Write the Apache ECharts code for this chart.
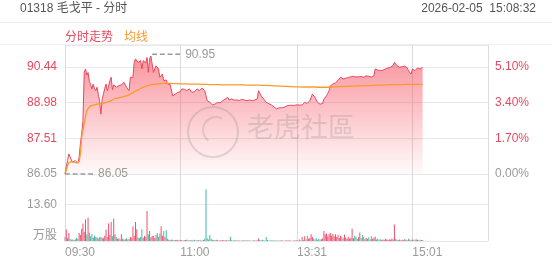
<!DOCTYPE html>
<html><head><meta charset="utf-8">
<script src="https://cdn.jsdelivr.net/npm/echarts@6/dist/echarts.min.js"></script>
<style>html,body{margin:0;padding:0;background:#fff}#c{width:552px;height:265px}</style>
</head><body><div id="c"></div>
<script>
const headerText = '01318 毛戈平 - 分时';
const stampText = '2026-02-05  15:08:32';
const legendNames = ['分时走势', '均线'];
const prevClose = 86.05;
const priceTop = 91.33;
const tickLabels = ['09:30', '11:00', '13:31', '15:01'];
const volTickLabel = 13.60;
const volUnit = '万股';

const price = [
86.05,86.35,86.60,86.87,86.80,86.62,86.53,86.58,86.60,86.55,
86.49,86.73,87.28,87.70,88.23,90.21,90.35,90.10,90.20,89.85,
89.70,89.53,89.73,89.55,89.46,89.60,89.30,89.05,88.50,89.12,
89.32,89.55,89.73,89.46,89.65,89.87,90.01,89.50,89.70,89.73,
89.60,89.66,89.67,89.60,89.70,89.73,89.80,89.87,89.60,89.55,
89.46,90.01,89.95,90.01,90.62,90.76,90.80,90.62,90.70,90.69,
90.35,90.69,90.75,90.60,90.82,90.21,90.76,90.88,90.95,90.21,
90.35,90.48,90.42,90.35,90.01,90.08,90.14,89.87,89.95,89.90,
89.73,89.80,89.72,89.66,89.25,89.28,89.32,89.36,89.39,89.32,
89.42,89.53,89.46,89.52,89.60,89.46,89.50,89.53,89.45,89.39,
89.46,89.42,89.39,89.53,89.48,89.46,89.53,89.57,89.60,89.46,
89.25,89.05,89.01,88.98,88.91,88.88,88.84,88.91,88.95,88.98,
88.91,88.96,89.01,89.05,89.08,89.12,89.15,89.19,89.08,89.06,
89.12,89.05,89.08,89.12,89.08,89.10,89.06,89.05,89.10,89.12,
89.08,89.10,89.05,89.07,89.08,89.06,89.05,89.05,89.08,89.10,
89.12,89.46,89.35,89.25,89.18,89.12,89.05,88.98,88.95,88.93,
88.91,88.88,88.84,88.80,88.76,88.71,88.74,88.76,88.78,88.76,
88.74,88.78,88.80,88.84,88.85,88.86,88.87,88.86,88.84,88.86,
88.87,88.88,88.88,88.87,88.86,88.87,88.87,88.98,88.96,88.94,
89.00,89.05,89.18,89.32,89.25,89.19,89.08,88.98,88.94,88.91,
88.92,88.94,89.12,89.18,89.25,89.35,89.46,89.66,89.70,89.73,
89.75,89.78,89.80,89.88,89.95,90.01,89.97,89.94,89.96,89.97,
89.98,90.00,90.01,90.03,90.04,90.05,90.03,90.02,90.01,90.03,
90.05,90.04,90.02,90.01,90.04,90.07,90.06,90.05,90.03,90.02,
90.06,90.07,90.35,90.33,90.30,90.29,90.28,90.28,90.30,90.33,
90.35,90.37,90.39,90.41,90.42,90.44,90.50,90.62,90.55,90.48,
90.45,90.42,90.43,90.44,90.44,90.46,90.48,90.40,90.28,90.20,
90.14,90.35,90.32,90.28,90.33,90.39,90.37,90.35,90.38,90.42
];

const avgPrice = [
86.05,86.20,86.40,86.52,86.56,86.56,86.55,86.54,86.52,86.50,
86.50,86.55,86.87,87.55,87.85,88.10,88.40,88.64,88.72,88.80,
88.84,88.86,88.87,88.88,88.89,88.91,88.92,88.92,88.92,88.93,
88.94,88.96,88.98,88.99,89.00,89.02,89.06,89.09,89.12,89.14,
89.15,89.16,89.17,89.19,89.20,89.21,89.22,89.24,89.25,89.27,
89.30,89.32,89.35,89.38,89.41,89.44,89.46,89.49,89.52,89.55,
89.58,89.60,89.62,89.64,89.66,89.68,89.70,89.71,89.72,89.72,
89.73,89.73,89.73,89.74,89.74,89.75,89.75,89.76,89.76,89.76,
89.76,89.76,89.76,89.76,89.76,89.75,89.75,89.75,89.75,89.74,
89.74,89.74,89.74,89.74,89.74,89.74,89.74,89.73,89.73,89.73,
89.73,89.73,89.73,89.73,89.73,89.73,89.73,89.72,89.72,89.72,
89.72,89.72,89.72,89.71,89.71,89.71,89.71,89.71,89.71,89.71,
89.71,89.71,89.71,89.70,89.70,89.70,89.70,89.70,89.70,89.70,
89.70,89.70,89.70,89.70,89.70,89.70,89.70,89.70,89.70,89.70,
89.70,89.69,89.69,89.69,89.69,89.69,89.69,89.69,89.69,89.69,
89.69,89.69,89.69,89.68,89.68,89.68,89.68,89.68,89.67,89.67,
89.67,89.67,89.67,89.66,89.66,89.66,89.66,89.65,89.65,89.65,
89.65,89.64,89.64,89.64,89.64,89.63,89.63,89.63,89.63,89.62,
89.62,89.62,89.62,89.62,89.62,89.61,89.61,89.61,89.61,89.61,
89.61,89.61,89.61,89.61,89.61,89.61,89.61,89.60,89.60,89.60,
89.60,89.60,89.60,89.60,89.60,89.60,89.60,89.61,89.61,89.61,
89.62,89.62,89.62,89.63,89.63,89.63,89.63,89.64,89.64,89.64,
89.64,89.64,89.65,89.65,89.65,89.65,89.65,89.66,89.66,89.66,
89.66,89.66,89.66,89.67,89.67,89.67,89.67,89.67,89.67,89.68,
89.68,89.68,89.68,89.69,89.69,89.69,89.69,89.69,89.69,89.70,
89.70,89.70,89.70,89.70,89.70,89.71,89.71,89.71,89.71,89.71,
89.71,89.71,89.71,89.71,89.72,89.72,89.72,89.72,89.72,89.72,
89.72,89.72,89.72,89.72,89.72,89.72,89.72,89.72,89.72,89.72
];

const volume = [
1.5,4.3,1.0,3.0,0.8,0.5,0.6,0.4,0.7,1.2,
0.8,3.0,2.2,4.6,6.5,3.5,8.0,2.4,8.7,3.2,
1.8,2.6,1.2,2.0,1.5,1.3,0.9,1.4,1.6,1.2,
1.0,2.0,4.3,1.5,6.5,2.2,7.1,1.8,8.4,2.5,
1.5,0.8,1.0,0.6,2.5,0.8,0.5,0.7,1.0,0.6,
0.8,1.5,1.2,5.5,2.0,7.1,4.4,1.3,1.0,1.5,
4.4,1.2,2.0,1.5,11.2,2.5,3.7,1.4,2.0,1.9,
1.0,2.2,3.0,1.5,2.8,5.5,2.0,3.7,1.5,4.0,
0.8,0.5,0.4,0.6,0.5,0.3,0.4,0.3,0.5,0.3,
0.4,0.3,0.2,0.3,0.4,0.6,0.3,0.2,0.3,0.4,
0.3,0.5,0.2,0.3,0.4,0.2,0.3,0.2,0.4,0.8,
19.3,1.0,0.6,2.2,0.8,0.5,0.4,0.3,0.5,0.3,
0.2,0.3,0.2,0.4,0.3,0.2,0.3,0.2,0.4,1.6,
0.3,0.2,0.3,0.2,0.2,0.3,0.2,0.1,0.2,0.3,
0.2,0.2,0.3,0.2,0.2,0.1,0.2,0.3,0.2,0.2,
0.3,0.9,0.4,0.3,0.5,0.3,0.2,1.5,0.4,0.2,
0.2,0.3,0.2,0.3,0.2,0.2,0.1,0.2,0.2,0.3,
0.2,0.1,0.2,0.2,0.3,0.2,0.2,0.1,0.2,0.2,
0.2,0.3,0.2,0.6,0.3,1.5,0.4,1.8,0.6,2.0,
0.8,1.2,2.5,1.5,0.8,0.6,1.0,0.5,0.8,0.6,
0.7,1.0,3.7,2.5,2.8,1.8,2.5,3.0,2.0,2.7,
1.8,2.5,1.5,2.3,1.2,2.0,1.6,1.0,2.4,1.3,
0.9,1.5,0.8,1.2,4.6,1.0,2.0,1.6,0.8,1.4,
3.2,1.0,2.2,1.5,0.7,1.1,0.8,1.4,0.6,1.8,
0.8,1.2,1.6,0.6,0.9,0.5,0.7,0.4,0.6,0.5,
0.8,0.6,0.4,0.7,0.5,0.9,0.6,6.2,0.8,0.5,
0.4,0.6,0.3,0.5,0.4,0.7,0.5,0.3,0.8,0.5,
0.4,0.6,0.3,0.5,0.7,0.4,0.3,0.5,0.4,0.3
];

// trading minutes: 09:30-12:00, 13:01-16:00
const pad = n => (n < 10 ? '0' : '') + n;
const fmt = m => pad(Math.floor(m / 60)) + ':' + pad(m % 60);
const times = [];
for (let m = 9 * 60 + 30; m <= 12 * 60; m++) times.push(fmt(m));
for (let m = 13 * 60 + 1; m <= 16 * 60; m++) times.push(fmt(m));
const lineIdx = tickLabels.map(t => times.indexOf(t)).concat([times.length - 1]);

const RED = '#e8485e', GREEN = '#3dbda8', GREY = '#9a9a9a', ORANGE = '#fa9a2c';
const FONT = "'Liberation Sans', Arial, 'Noto Sans CJK SC', sans-serif";
const GRID_LINE = '#e8e8e8';
const dashPath = 'path://M0 0h5v1h-5zM8 0h5v1h-5zM16 0h5v1h-5zM24 0h5v1h-5z';

const chart = echarts.init(document.getElementById('c'), null, { renderer: 'canvas' });
chart.setOption({
  animation: false,
  textStyle: { fontFamily: FONT },
  title: [
    { text: headerText, left: 20, top: 1, padding: [2, 0, 2, 0], textStyle: { fontSize: 12, fontWeight: 'normal', color: '#555', fontFamily: FONT } },
    { text: stampText, right: 16, top: 1, padding: [2, 0, 2, 0], textStyle: { fontSize: 12, fontWeight: 'normal', color: '#555', fontFamily: FONT } }
  ],
  legend: {
    left: 55, top: 27, icon: 'none', itemWidth: 0, itemHeight: 0, itemGap: 6, selectedMode: false,
    textStyle: { fontSize: 12, fontFamily: FONT },
    data: [
      { name: legendNames[0], textStyle: { color: RED } },
      { name: legendNames[1], textStyle: { color: ORANGE } }
    ]
  },
  graphic: [
    { type: 'line', shape: { x1: 0, y1: 22.5, x2: 552, y2: 22.5 }, style: { stroke: '#efefef', lineWidth: 1 }, silent: true },
    { type: 'line', shape: { x1: 0, y1: 44.5, x2: 552, y2: 44.5 }, style: { stroke: '#efefef', lineWidth: 1 }, silent: true },
    { type: 'circle', shape: { cx: 213, cy: 132, r: 25 }, style: { fill: 'none', stroke: 'rgba(120,120,120,0.22)', lineWidth: 2 }, z: 10, silent: true },
    { type: 'arc', shape: { cx: 216, cy: 130, r: 13, startAngle: 2.2, endAngle: 5.2 }, style: { fill: 'none', stroke: 'rgba(120,120,120,0.2)', lineWidth: 2 }, z: 10, silent: true },
    { type: 'text', left: 247, top: 116, style: { text: '老虎社區', font: '27px ' + FONT, fill: 'rgba(120,120,120,0.22)' }, z: 10, silent: true }
  ],
  grid: [
    { left: 65, right: 64, top: 45, bottom: 91 },
    { left: 65, right: 64, top: 174, bottom: 24 }
  ],
  xAxis: [
    {
      gridIndex: 0, type: 'category', data: times, boundaryGap: false,
      axisLine: { show: false }, axisTick: { show: false }, axisLabel: { show: false },
      splitLine: { show: true, interval: (i) => lineIdx.includes(i), lineStyle: { color: '#dcdcdc' } }
    },
    {
      gridIndex: 1, type: 'category', data: times, boundaryGap: false,
      axisLine: { show: false }, axisTick: { show: false },
      axisLabel: { show: true, interval: (i, v) => tickLabels.includes(v), align: 'left', color: GREY, fontSize: 12, margin: 6, fontFamily: FONT },
      splitLine: { show: true, interval: (i) => lineIdx.includes(i), lineStyle: { color: '#dcdcdc' } }
    }
  ],
  yAxis: [
    {
      gridIndex: 0, type: 'value', position: 'left', min: prevClose, max: priceTop, interval: prevClose * 0.017,
      axisLine: { show: false }, axisTick: { show: false },
      axisLabel: {
        showMaxLabel: false, fontSize: 12, margin: 8, fontFamily: FONT,
        formatter: v => v.toFixed(2),
        color: v => (v <= prevClose + 1e-6 ? GREY : RED)
      },
      splitLine: { show: true, lineStyle: { color: GRID_LINE } }
    },
    {
      gridIndex: 0, type: 'value', position: 'right', min: 0, max: (priceTop / prevClose - 1) * 100, interval: 1.7,
      axisLine: { show: false }, axisTick: { show: false }, splitLine: { show: false },
      axisLabel: {
        showMaxLabel: false, fontSize: 12, margin: 7, fontFamily: FONT,
        formatter: v => v.toFixed(2) + '%',
        color: v => (v <= 1e-6 ? GREY : RED)
      }
    },
    {
      gridIndex: 1, type: 'value', position: 'left', min: 0, max: 25.03, interval: volTickLabel,
      axisLine: { show: false }, axisTick: { show: false },
      axisLabel: {
        showMaxLabel: false, fontSize: 12, margin: 8, color: GREY, fontFamily: FONT,
        formatter: v => (v === 0 ? '{u|' + volUnit + '}' : v.toFixed(2)),
        rich: { u: { color: GREY, fontSize: 12, fontFamily: FONT, padding: [0, 0, 10, 0] } }
      },
      splitLine: { show: true, lineStyle: { color: GRID_LINE } }
    }
  ],
  series: [
    {
      name: legendNames[0], type: 'line', xAxisIndex: 0, yAxisIndex: 0, data: price,
      symbol: 'none', lineStyle: { color: RED, width: 1 }, itemStyle: { color: RED },
      areaStyle: {
        color: new echarts.graphic.LinearGradient(0, 0, 0, 1, [
          { offset: 0, color: 'rgba(245,75,90,0.85)' },
          { offset: 1, color: 'rgba(245,75,90,0.04)' }
        ])
      },
      markPoint: {
        symbol: dashPath, symbolSize: [28, 1.6], symbolOffset: [14, 0],
        itemStyle: { color: GREY },
        label: { show: true, position: 'right', distance: 5, color: GREY, fontSize: 12, fontFamily: FONT, formatter: p => p.value.toFixed(2) },
        data: [{ type: 'max' }, { type: 'min' }]
      },
      z: 2
    },
    {
      name: legendNames[1], type: 'line', xAxisIndex: 0, yAxisIndex: 0, data: avgPrice,
      symbol: 'none', lineStyle: { color: ORANGE, width: 1.3 }, itemStyle: { color: ORANGE }, z: 3
    },
    {
      name: 'volume', type: 'bar', xAxisIndex: 1, yAxisIndex: 2, data: volume, barWidth: 1,
      itemStyle: {
        color: p => {
          const i = p.dataIndex;
          const prev = i === 0 ? prevClose : price[i - 1];
          return price[i] > prev ? '#f0506e' : (price[i] < prev ? GREEN : GREY);
        }
      }
    }
  ]
});
</script>
</body></html>
